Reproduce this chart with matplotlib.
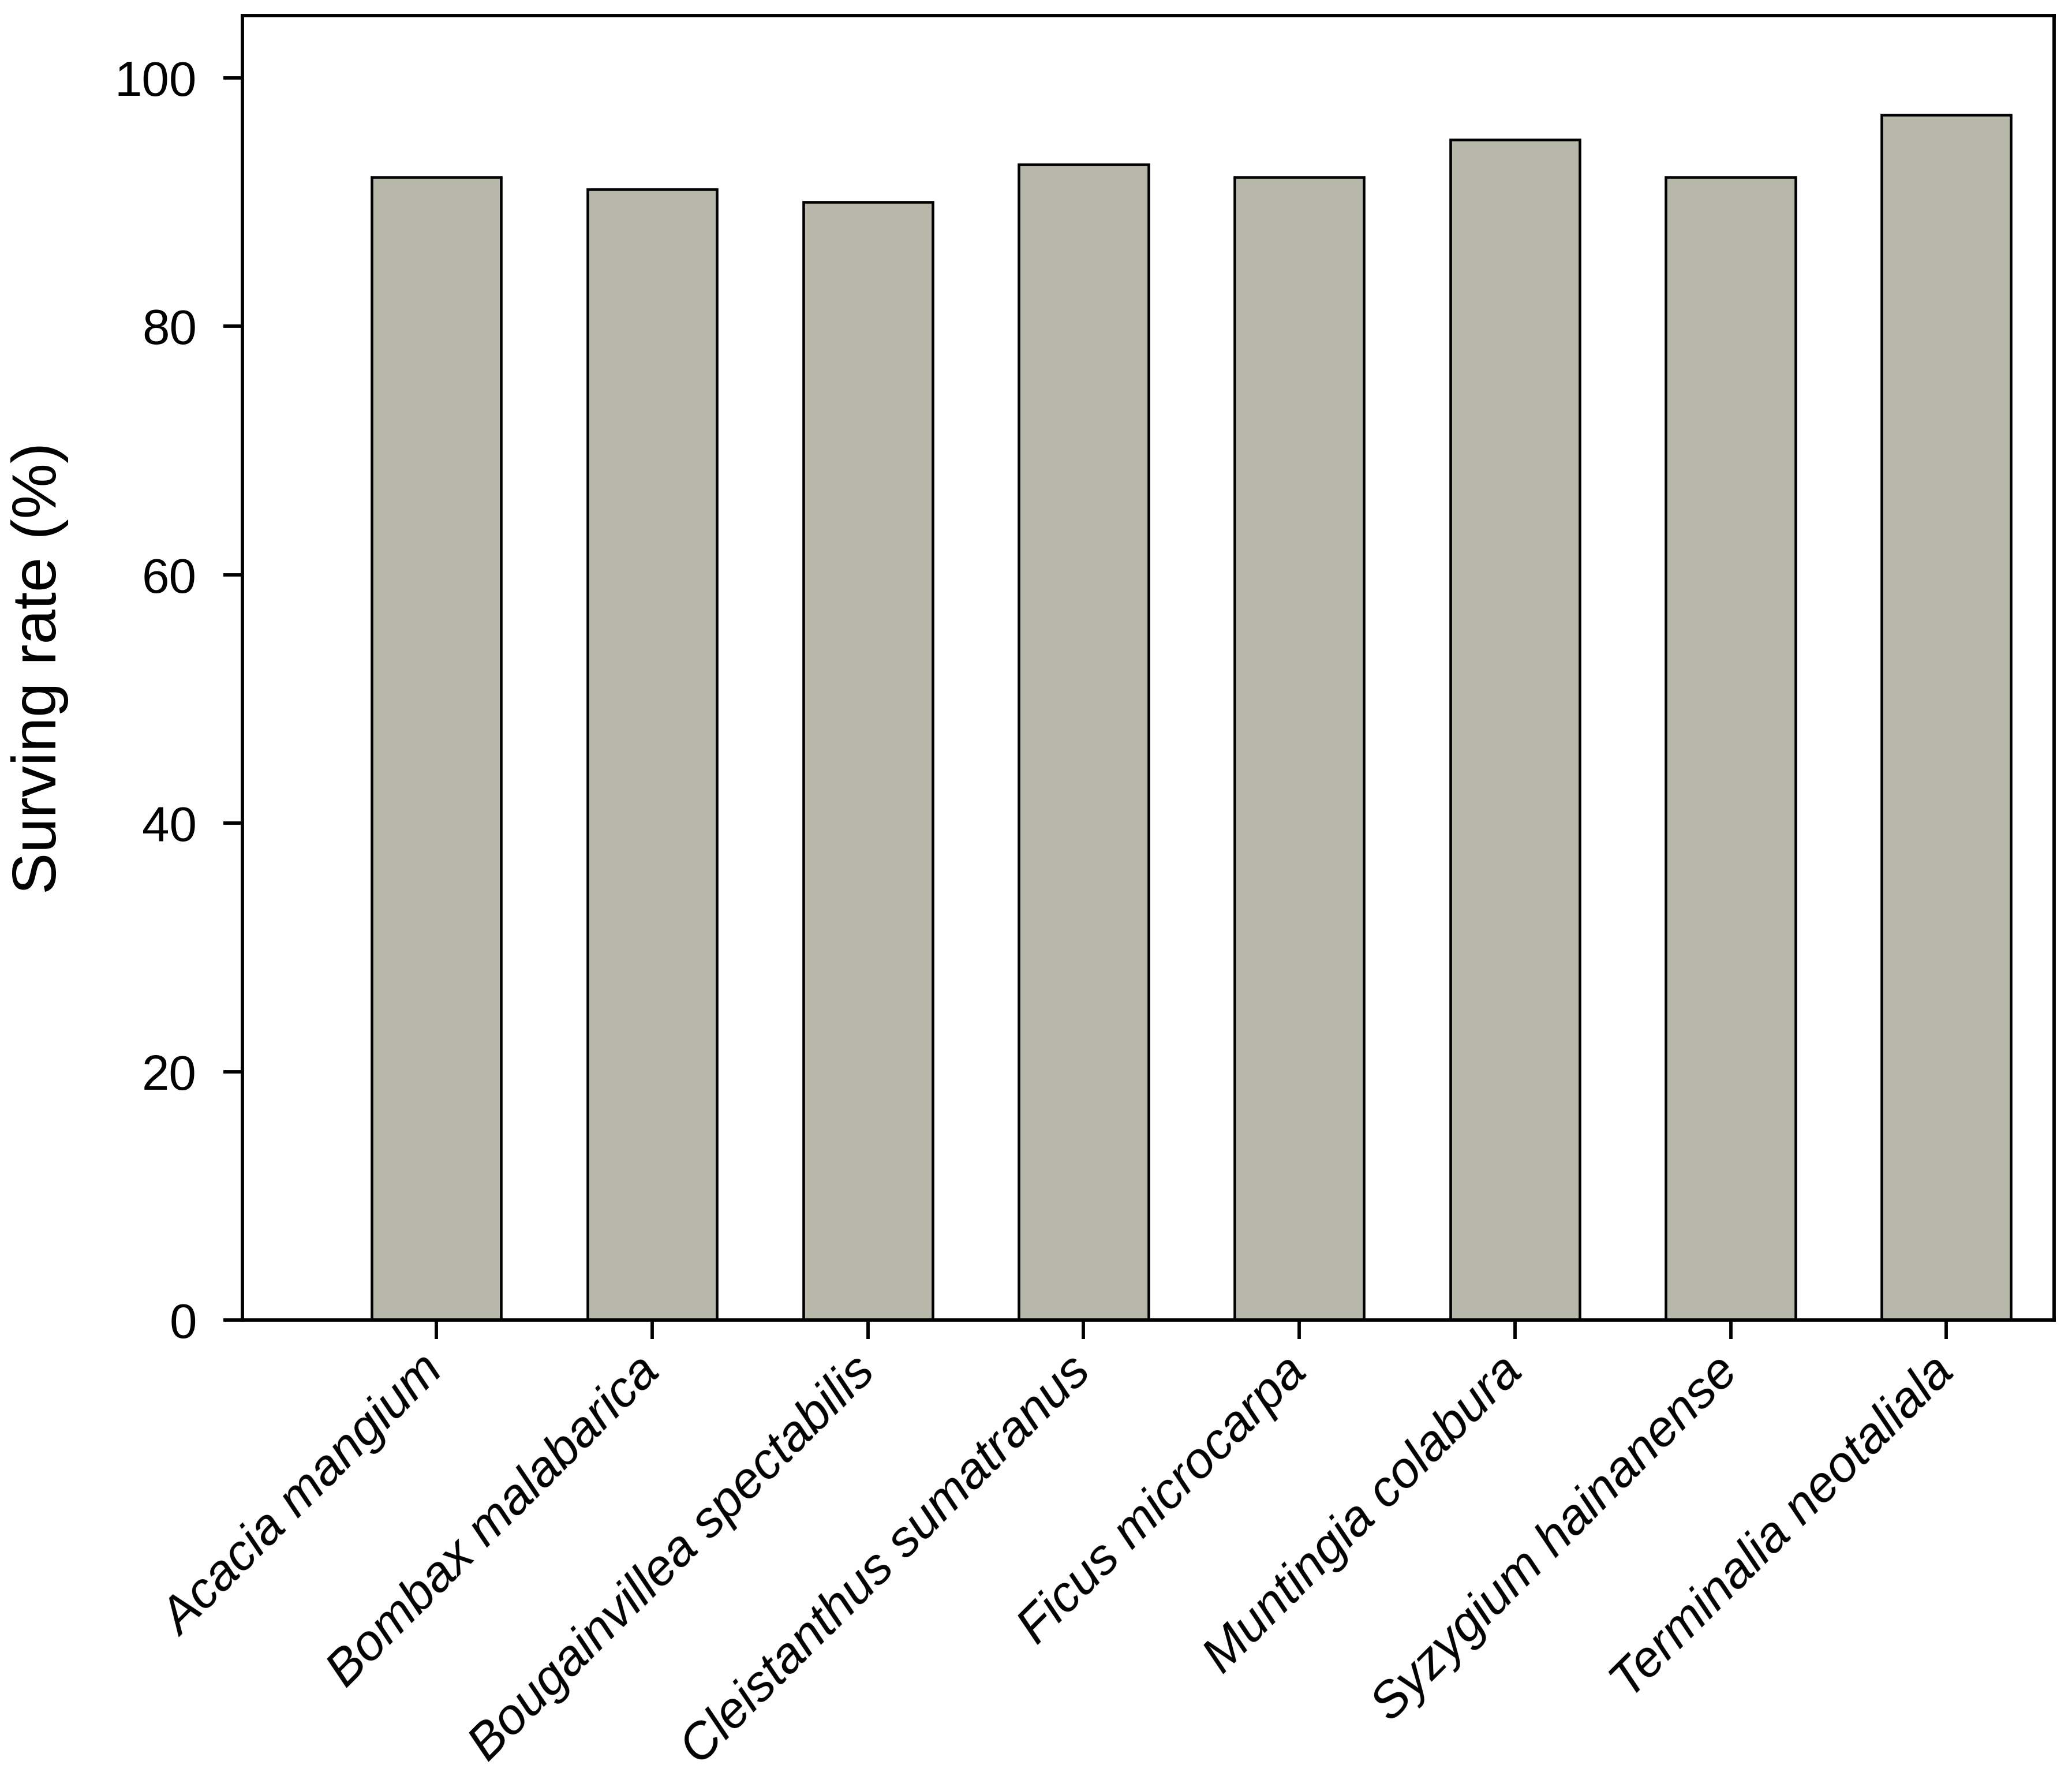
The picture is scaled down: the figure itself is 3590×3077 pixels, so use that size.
import matplotlib
matplotlib.use("Agg")
import matplotlib.pyplot as plt

species = ["Acacia mangium", "Bombax malabarica", "Bougainvillea spectabilis",
           "Cleistanthus sumatranus", "Ficus microcarpa", "Muntingia colabura",
           "Syzygium hainanense", "Terminalia neotaliala"]
surviving_rate = [92, 91, 90, 93, 92, 95, 92, 97]
yticks = [0, 20, 40, 60, 80, 100]

plt.rcParams['font.family'] = ['Liberation Sans', 'DejaVu Sans']

fig = plt.figure(figsize=(3590/300, 3077/300), dpi=300)
ax = fig.add_axes([0.117, 0.2567, 0.8744, 0.7345])

x = list(range(len(species)))
ax.bar(x, surviving_rate, width=0.6, color='#b7b7aa', edgecolor='black', linewidth=1.1, zorder=2)

ax.set_xlim(-0.9, 7.5)
ax.set_ylim(0, 105)
ax.set_yticks(yticks)
ax.set_xticks(x)
ax.set_xticklabels(species, rotation=45, ha='right', va='center', rotation_mode='anchor',
                   fontstyle='italic', fontsize=21)
ax.tick_params(axis='y', labelsize=20.5, length=8, width=1.4, direction='out', pad=11)
ax.tick_params(axis='x', length=8, width=1.4, direction='out', pad=10.5)
for s in ax.spines.values():
    s.set_linewidth(1.4)
ax.set_ylabel("Surving rate (%)", fontsize=26, labelpad=19)

fig.savefig("out.png", dpi=300)
